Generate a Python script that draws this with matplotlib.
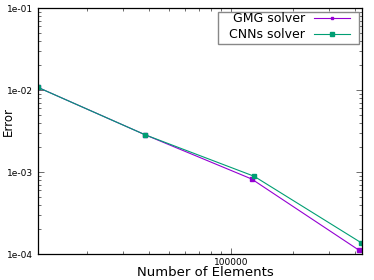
import matplotlib
matplotlib.use('Agg')
import matplotlib.pyplot as plt
from matplotlib.patches import Rectangle
from matplotlib.ticker import LogLocator, FixedLocator, NullFormatter, FuncFormatter

# data
gmg_elements = [11530, 38240, 126100, 419600]
gmg_error = [0.01079, 0.00285, 0.000822, 0.000111]
cnn_elements = [11530, 38240, 129700, 429100]
cnn_error = [0.01079, 0.00285, 0.000887, 0.0001374]

W, H = 374, 280
fig = plt.figure(figsize=(W / 100, H / 100), dpi=100)
ax = fig.add_axes([37.5 / W, 1 - 254 / H, 324 / W, 246 / H])

ax.plot(gmg_elements, gmg_error, color='#9400d3', lw=0.8, marker='s', ms=2.5,
        label='GMG solver')
ax.plot(cnn_elements, cnn_error, color='#009e73', lw=0.8, marker='s', ms=3,
        label='CNNs solver')

ax.set_xscale('log')
ax.set_yscale('log')
ax.set_xlim(11500, 431000)
ax.set_ylim(1e-4, 1e-1)

ax.xaxis.set_major_locator(FixedLocator([100000]))
ax.xaxis.set_major_formatter(FuncFormatter(lambda v, p: '%d' % v))
ax.xaxis.set_minor_locator(LogLocator(base=10, subs=range(2, 10)))
ax.xaxis.set_minor_formatter(NullFormatter())
ax.yaxis.set_major_locator(LogLocator(base=10, numticks=10))
ax.yaxis.set_major_formatter(FuncFormatter(lambda v, p: '%.0e' % v))
ax.yaxis.set_minor_locator(LogLocator(base=10, subs=range(2, 10), numticks=10))
ax.yaxis.set_minor_formatter(NullFormatter())

ax.tick_params(which='both', direction='in', top=True, right=True,
               labelsize=6.5, width=0.6, color='#555555')
ax.tick_params(which='major', length=4, pad=3)
ax.tick_params(which='minor', length=2)
for s in ax.spines.values():
    s.set_linewidth(0.9)

# axis titles placed like the reference
fig.text(205 / W, 1 - 273 / H, 'Number of Elements', fontsize=9.5,
         ha='center', va='center')
fig.text(8 / W, 1 - 122 / H, 'Error', fontsize=8.5, rotation=90,
         ha='center', va='center')

# legend box drawn separately, legend itself without frame
ax.add_patch(Rectangle((218 / W, 1 - 44.3 / H), 141 / W, 32.6 / H,
                       transform=fig.transFigure, fill=True,
                       facecolor='white', edgecolor='#888888', lw=1.0,
                       zorder=4))
leg = ax.legend(loc='upper right', bbox_to_anchor=(350 / W, 1 - 12.5 / H),
                bbox_transform=fig.transFigure, fontsize=9, frameon=False,
                markerfirst=False, handlelength=2.9, borderpad=0,
                labelspacing=0.2, handletextpad=0.7, borderaxespad=0,
                markerscale=0.8)
leg.set_zorder(5)
for t in leg.get_texts():
    t.set_ha('right')

fig.savefig('out.png', dpi=100)
